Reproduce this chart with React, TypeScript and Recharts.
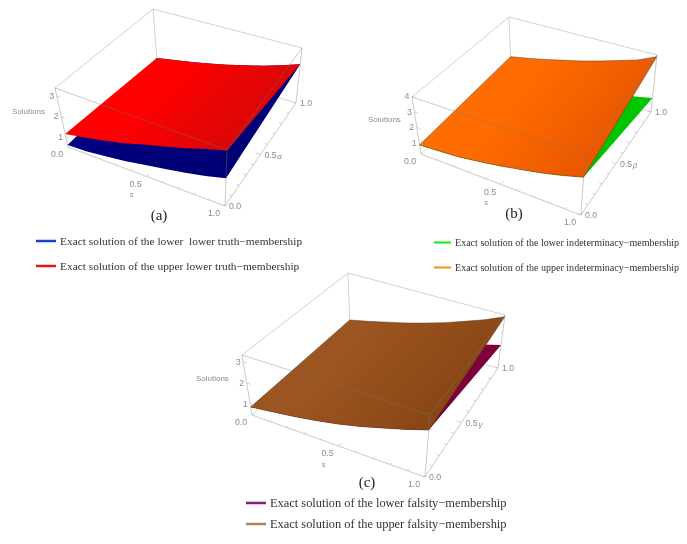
import React from "react";
import { Area, ComposedChart, Legend, Line, Scatter, XAxis, YAxis } from "recharts";

const W = 687;
const H = 544;

// grid along s, each surface is read along its alpha = 0 and alpha = 1 edges
const sValues = [0, 0.125, 0.25, 0.375, 0.5, 0.625, 0.75, 0.875, 1];
const sTicks = [0, 0.1, 0.2, 0.3, 0.4, 0.5, 0.6, 0.7, 0.8, 0.9, 1];
const sLabels = [0, 0.5, 1];

const truthLowerAt0 = [0.6, 0.64, 0.76, 0.89, 1.08, 1.25, 1.44, 1.67, 1.94];
const truthLowerAt1 = [0.61, 0.8, 0.99, 1.2, 1.42, 1.67, 1.92, 2.22, 2.54];
const truthUpperAt0 = [1.14, 1.33, 1.56, 1.8, 2.12, 2.4, 2.7, 3.05, 3.38];
const truthUpperAt1 = [0.61, 0.8, 0.99, 1.2, 1.42, 1.67, 1.92, 2.22, 2.54];

const indetLowerAt0 = [0.88, 0.96, 1.06, 1.25, 1.46, 1.7, 1.95, 2.25, 2.6];
const indetLowerAt1 = [0.6, 0.62, 0.65, 0.68, 0.72, 0.77, 0.84, 0.95, 1.2];
const indetUpperAt0 = [0.88, 0.96, 1.06, 1.25, 1.46, 1.7, 1.95, 2.25, 2.6];
const indetUpperAt1 = [1.11, 1.37, 1.65, 1.96, 2.26, 2.6, 2.96, 3.32, 3.84];

const falsityLowerAt0 = [0.86, 1.0, 1.14, 1.31, 1.51, 1.75, 2.03, 2.32, 2.64];
const falsityLowerAt1 = [0.7, 0.76, 0.84, 0.93, 1.04, 1.16, 1.3, 1.47, 1.72];
const falsityUpperAt0 = [0.86, 1.0, 1.14, 1.31, 1.51, 1.75, 2.03, 2.32, 2.64];
const falsityUpperAt1 = [0.85, 1.05, 1.28, 1.51, 1.78, 2.08, 2.43, 2.79, 3.24];

type Pt = number[];
type View = {
  hMin: number;
  hMax: number;
  // screen position of the box corners, [s][alpha]
  floor: Pt[][];
  top: Pt[][];
};

const project = (v: View, s: number, a: number, h: number) => {
  const u = (h - v.hMin) / (v.hMax - v.hMin);
  const mix = (c: Pt[][], i: number) =>
    (1 - s) * ((1 - a) * c[0][0][i] + a * c[0][1][i]) + s * ((1 - a) * c[1][0][i] + a * c[1][1][i]);
  return {
    x: (1 - u) * mix(v.floor, 0) + u * mix(v.top, 0),
    y: (1 - u) * mix(v.floor, 1) + u * mix(v.top, 1),
  };
};

const surface = (v: View, at0: number[], at1: number[]) => {
  const front = sValues.map((s, i) => project(v, s, 0, at0[i]));
  const back = sValues.map((s, i) => project(v, s, 1, at1[i])).reverse();
  return [...front, ...back, front[0]];
};

// walk along box corners, null breaks the path
const walk = (v: View, paths: number[][][]) => {
  const out: { x: number; y: number | null }[] = [];
  paths.forEach((p) => {
    p.forEach(([s, a, t]) => out.push(project(v, s, a, v.hMin + t * (v.hMax - v.hMin))));
    out.push({ x: out[out.length - 1].x, y: null });
  });
  return out;
};

const backEdges = [
  [[0, 0, 1], [0, 1, 1], [1, 1, 1]],
  [[0, 1, 1], [0, 1, 0]],
  [[0, 0, 0], [0, 1, 0], [1, 1, 0]],
];
const frontEdges = [
  [[0, 0, 0], [0, 0, 1], [1, 0, 1], [1, 1, 1], [1, 1, 0], [1, 0, 0], [1, 0, 1]],
  [[0, 0, 0], [1, 0, 0]],
];

const tickMarks = (v: View, zTicks: number[]) => {
  const out: { x: number; y: number | null }[] = [];
  const seg = (a: any, b: any) => {
    out.push(a, b, { x: b.x, y: null });
  };
  sTicks.forEach((t) => {
    const len = t === 0.5 ? 0.03 : 0.018;
    seg(project(v, t, 0, v.hMin), project(v, t, len, v.hMin));
    seg(project(v, 1, t, v.hMin), project(v, 1 - len, t, v.hMin));
  });
  zTicks.forEach((z) => {
    seg(project(v, 0, 0, z), project(v, 0.02, 0, z));
  });
  return out;
};

const tickText = (v: View, zTicks: number[], off: any, alphaName: string) => {
  const out: any[] = [];
  sLabels.forEach((t) => {
    const p = project(v, t, 0, v.hMin);
    out.push({ x: p.x + off.s[0], y: p.y + off.s[1], text: t.toFixed(1) });
    const q = project(v, 1, t, v.hMin);
    out.push({ x: q.x + off.a[0], y: q.y + off.a[1], text: t.toFixed(1) });
  });
  zTicks.forEach((z) => {
    const p = project(v, 0, 0, z);
    out.push({ x: p.x + off.z[0], y: p.y, text: String(z) });
  });
  const mid = project(v, 0.5, 0, v.hMin);
  out.push({ x: mid.x + off.s[0] - 4, y: mid.y + off.s[1] + 11, text: "s", size: 7.5 });
  const midA = project(v, 1, 0.5, v.hMin);
  out.push({ x: midA.x + off.a[0] + 9, y: midA.y + off.a[1] + 2, text: alphaName, size: 8, italic: true });
  const lab = project(v, 0, 0, (v.hMin + v.hMax) / 2 + 0.45);
  out.push({ x: lab.x + off.name[0], y: lab.y + off.name[1], text: "Solutions", size: 8 });
  return out;
};

const TickLabel = (p: any) => (
  <text
    x={p.cx}
    y={p.cy}
    textAnchor="middle"
    dominantBaseline="central"
    fill="#8c8c8c"
    fontFamily="Liberation Sans"
    fontStyle={p.payload.italic ? "italic" : "normal"}
    fontSize={p.payload.size || 8.8}
  >
    {p.payload.text}
  </text>
);

const Caption = (p: any) => (
  <text x={p.cx} y={p.cy} textAnchor="middle" dominantBaseline="central" fill="#222" fontFamily="Liberation Serif" fontSize={15}>
    {p.payload.text}
  </text>
);

const panels = [
  {
    id: "a",
    view: {
      hMin: 0.5,
      hMax: 3.4,
      floor: [[[68, 147], [157, 60]], [[225, 206], [296, 103]]],
      top: [[[55, 88], [153, 9]], [[227, 150], [302, 48]]],
    },
    zTicks: [1, 2, 3],
    off: { s: [-11, 7], a: [10, 0], z: [-5], name: [-31, 3] },
    alphaName: "α",
    caption: { x: 159, y: 215, text: "(a)" },
    lower: { at0: truthLowerAt0, at1: truthLowerAt1, from: "#00008c", to: "#00006e", edge: "none", name: "Exact solution of the lower  lower truth−membership", legend: "#1c3fd6" },
    upper: { at0: truthUpperAt0, at1: truthUpperAt1, from: "#ff0000", to: "#d40808", edge: "none", name: "Exact solution of the upper lower truth−membership", legend: "#e8101c" },
    legendPos: { left: 36, top: 229, width: 300 },
    iconSize: 20,
    fontSize: 11.4,
    rowHeight: 25,
  },
  {
    id: "b",
    view: {
      hMin: 0.3,
      hMax: 3.95,
      floor: [[[421, 154], [511, 68]], [[581, 215], [651, 112]]],
      top: [[[412, 97], [509, 17]], [[585, 155], [657, 55]]],
    },
    zTicks: [1, 2, 3, 4],
    off: { s: [-11, 7], a: [10, 0], z: [-5], name: [-31, 1] },
    alphaName: "β",
    caption: { x: 514, y: 213, text: "(b)" },
    lower: { at0: indetLowerAt0, at1: indetLowerAt1, from: "#00d000", to: "#00c000", edge: "none", name: "Exact solution of the lower indeterminacy−membership", legend: "#22e622" },
    upper: { at0: indetUpperAt0, at1: indetUpperAt1, from: "#ff6c00", to: "#e65400", edge: "#5a3a20", name: "Exact solution of the upper indeterminacy−membership", legend: "#f7931e" },
    legendPos: { left: 434, top: 230, width: 253 },
    iconSize: 17,
    fontSize: 10.05,
    rowHeight: 25,
  },
  {
    id: "c",
    view: {
      hMin: 0.48,
      hMax: 3.33,
      floor: [[[252, 415], [350, 327]], [[425, 477], [498, 368]]],
      top: [[[242, 355], [348, 273]], [[430, 415], [505, 315]]],
    },
    zTicks: [1, 2, 3],
    off: { s: [-11, 7], a: [10, 0], z: [-5], name: [-33, 3] },
    alphaName: "γ",
    caption: { x: 367, y: 482, text: "(c)" },
    lower: { at0: falsityLowerAt0, at1: falsityLowerAt1, from: "#86003c", to: "#780038", edge: "none", name: "Exact solution of the lower falsity−membership", legend: "#861a86" },
    upper: { at0: falsityUpperAt0, at1: falsityUpperAt1, from: "#9c5420", to: "#864414", edge: "#5a3a20", name: "Exact solution of the upper falsity−membership", legend: "#b5834f" },
    legendPos: { left: 246, top: 493, width: 300 },
    iconSize: 20,
    fontSize: 12.4,
    rowHeight: 21,
  },
];

const Panel = ({ p }: { p: (typeof panels)[number] }) => {
  const v = p.view as View;
  const formatter = (value: string) => (
    <span style={{ color: "#333", fontFamily: "Liberation Serif", fontSize: p.fontSize, whiteSpace: "pre", lineHeight: `${p.rowHeight}px` }}>{value}</span>
  );
  return (
    <div style={{ position: "absolute", left: 0, top: 0, width: W, height: H }}>
      <ComposedChart width={W} height={H} margin={{ top: 0, right: 0, bottom: 0, left: 0 }}>
        <defs>
          <linearGradient id={`low${p.id}`} x1="0" y1="0" x2="1" y2="1">
            <stop offset="0" stopColor={p.lower.from} />
            <stop offset="1" stopColor={p.lower.to} />
          </linearGradient>
          <linearGradient id={`up${p.id}`} x1="0" y1="0" x2="1" y2="0.4">
            <stop offset="0.45" stopColor={p.upper.from} />
            <stop offset="1" stopColor={p.upper.to} />
          </linearGradient>
        </defs>
        <XAxis type="number" dataKey="x" domain={[0, W]} hide allowDataOverflow />
        <YAxis type="number" dataKey="y" domain={[0, H]} reversed hide allowDataOverflow />
        {/* an Area, so it stays under the surfaces: Lines always paint above Areas */}
        <Area data={walk(v, backEdges)} dataKey="y" fill="none" stroke="#d2d2d2" strokeWidth={1} dot={false} legendType="none" isAnimationActive={false} />
        <Area
          data={surface(v, p.lower.at0, p.lower.at1)}
          dataKey="y"
          baseValue={surface(v, p.lower.at0, p.lower.at1)[0].y}
          fill={`url(#low${p.id})`}
          fillOpacity={1}
          stroke={p.lower.edge}
          strokeWidth={0.5}
          dot={false}
          legendType="none"
          isAnimationActive={false}
        />
        <Area
          data={surface(v, p.upper.at0, p.upper.at1)}
          dataKey="y"
          baseValue={surface(v, p.upper.at0, p.upper.at1)[0].y}
          fill={`url(#up${p.id})`}
          fillOpacity={1}
          stroke={p.upper.edge}
          strokeWidth={0.5}
          dot={false}
          legendType="none"
          isAnimationActive={false}
        />
        <Line data={walk(v, frontEdges)} dataKey="y" stroke="#777777" strokeOpacity={0.4} strokeWidth={1} dot={false} legendType="none" isAnimationActive={false} />
        <Line data={tickMarks(v, p.zTicks)} dataKey="y" stroke="#bdbdbd" strokeWidth={0.7} dot={false} legendType="none" isAnimationActive={false} />
        <Scatter data={tickText(v, p.zTicks, p.off, p.alphaName)} dataKey="y" shape={TickLabel} legendType="none" isAnimationActive={false} />
        <Scatter data={[p.caption]} dataKey="y" shape={Caption} legendType="none" isAnimationActive={false} />
        <Line data={[]} dataKey="y" name={p.lower.name} stroke={p.lower.legend} strokeWidth={2} dot={false} legendType="plainline" isAnimationActive={false} />
        <Line data={[]} dataKey="y" name={p.upper.name} stroke={p.upper.legend} strokeWidth={2} dot={false} legendType="plainline" isAnimationActive={false} />
        <Legend
          layout="vertical"
          align="center"
          verticalAlign="middle"
          iconSize={p.iconSize}
          formatter={formatter}
          wrapperStyle={{ ...p.legendPos, right: "auto", bottom: "auto" }}
        />
      </ComposedChart>
    </div>
  );
};

export default function App() {
  return (
    <div style={{ position: "absolute", left: 0, top: 0, width: W, height: H, background: "#fff", filter: "blur(0.3px)" }}>
      {panels.map((p) => (
        <Panel key={p.id} p={p} />
      ))}
    </div>
  );
}
